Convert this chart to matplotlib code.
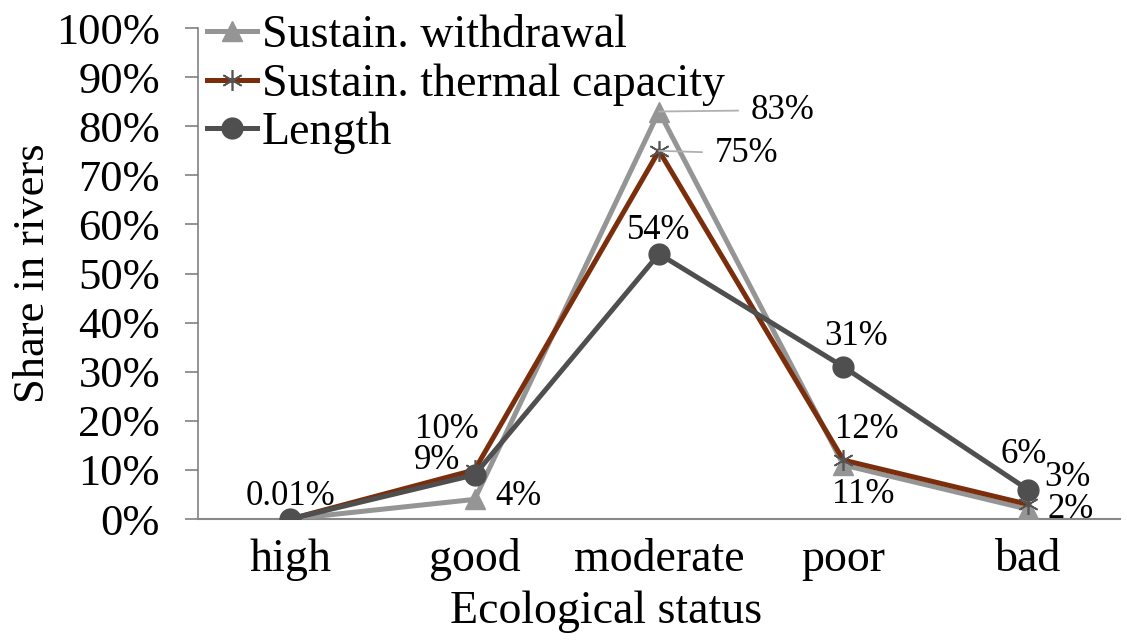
import matplotlib.pyplot as plt

plt.rcParams['font.family'] = ['Liberation Serif', 'DejaVu Serif']

categories = ['high', 'good', 'moderate', 'poor', 'bad']
withdrawal = [0, 4, 83, 11, 2]
thermal = [0, 10, 75, 12, 3]
length = [0.01, 9, 54, 31, 6]

c_withdrawal = '#959595'
c_thermal = '#7a2e0b'
c_length = '#4f4f4f'

fig = plt.figure(figsize=(11.27, 6.43), dpi=100)
ax = fig.add_axes([0.1757, 0.1928, 0.8181, 0.7636])

x = list(range(len(categories)))
ax.plot(x, withdrawal, color=c_withdrawal, lw=3.6, marker='^', ms=15,
        label='Sustain. withdrawal', zorder=3)
ax.plot(x, thermal, color=c_thermal, lw=3.6, marker=(6, 2, 0), ms=15,
        mec='#555555', mew=1.2, label='Sustain. thermal capacity', zorder=4)
ax.plot(x, length, color=c_length, lw=3.6, marker='o', ms=15,
        label='Length', zorder=5)

ax.set_xlim(-0.5, 4.5)
ax.set_ylim(0, 100)
ax.set_yticks(range(0, 101, 10))
ax.set_yticklabels([f'{v}%' for v in range(0, 101, 10)])
ax.set_xticks(x)
ax.set_xticklabels(categories)
ax.tick_params(axis='y', labelsize=32, length=9.4, width=1.1, color='#777777', pad=18)
ax.tick_params(axis='x', labelsize=33, length=0, pad=14)

for side in ['top', 'right']:
    ax.spines[side].set_visible(False)
ax.spines['left'].set_color('#777777')
ax.spines['left'].set_linewidth(1.1)
ax.spines['bottom'].set_color('#888888')
ax.spines['bottom'].set_linewidth(1.5)

ax.set_ylabel('Share in rivers', fontsize=32, labelpad=2)
ax.set_xlabel('Ecological status', fontsize=33)
ax.xaxis.set_label_coords(0.4425, -0.145)


def pct(v):
    return f'{v:g}%'


def label(series, i, dx, dy, ha='center', leader=False):
    v = series[i]
    props = None
    if leader:
        props = dict(arrowstyle='-', color='#b0b0b0', lw=1.3, shrinkA=7, shrinkB=0)
    ax.annotate(pct(v), (i, v), xytext=(dx, dy), textcoords='offset points',
                ha=ha, va='center', fontsize=25, arrowprops=props, zorder=6)


# Sustain. withdrawal labels
label(withdrawal, 2, 66, 1, ha='left', leader=True)
label(withdrawal, 1, 15, 2, ha='left')
label(withdrawal, 3, 14, -21)
label(withdrawal, 4, 14, 0, ha='left')

# Sustain. thermal capacity labels
label(thermal, 2, 40, -2, ha='left', leader=True)
label(thermal, 1, -20, 29)
label(thermal, 3, 17, 22)
label(thermal, 4, 12, 19, ha='left')

# Length labels
label(length, 0, 0, 16)
label(length, 1, -10, 10, ha='right')
label(length, 2, 0, 17)
label(length, 3, 9, 22)
label(length, 4, -3, 25)

ax.legend(loc='upper left', bbox_to_anchor=(0.1837, 0.977),
          bbox_transform=fig.transFigure, frameon=False, fontsize=33,
          handlelength=1.1, handletextpad=0.1, labelspacing=0.13,
          borderpad=0, borderaxespad=0)

fig.savefig('out.png', dpi=100, facecolor='white')
